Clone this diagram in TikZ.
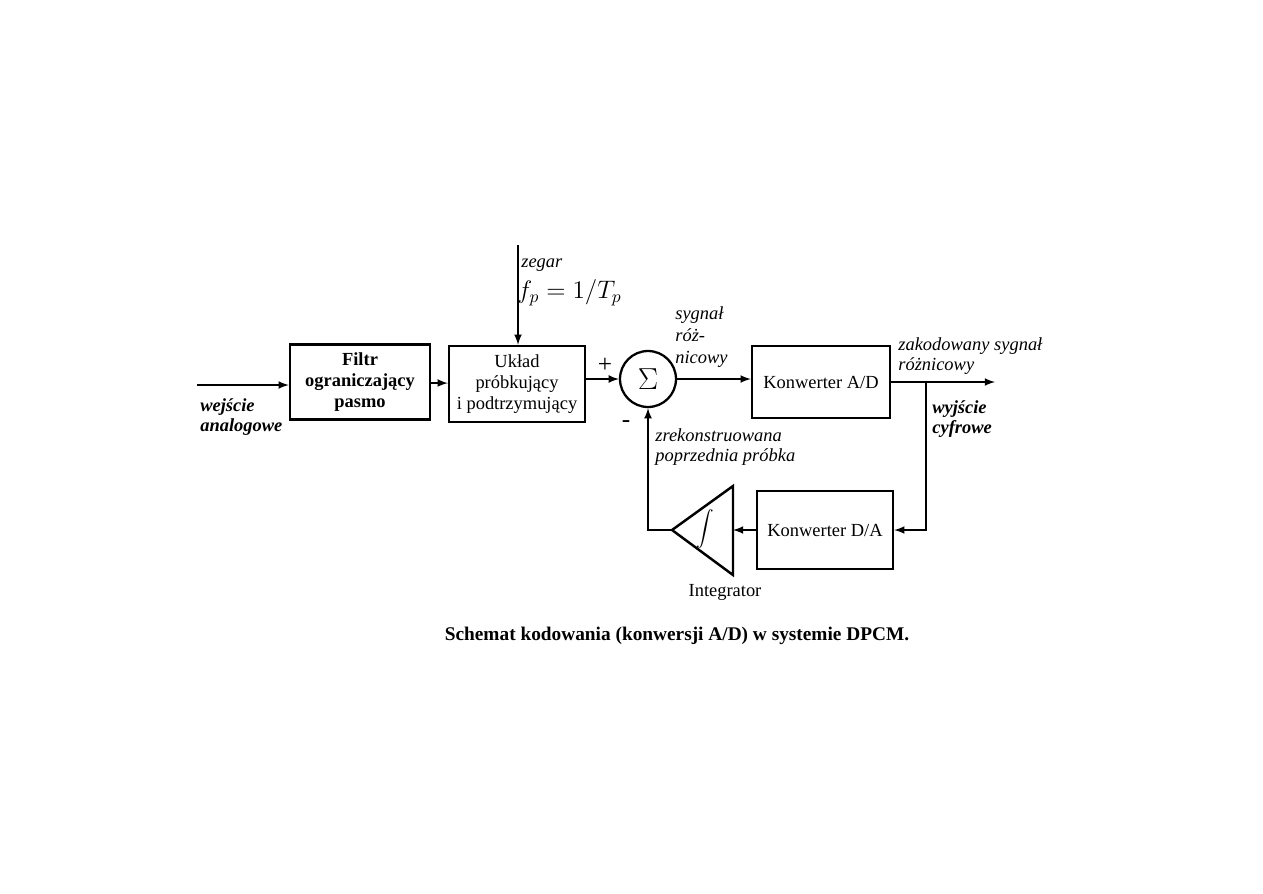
\documentclass[tikz,border=0pt]{standalone}
\usepackage{fontspec}
\setmainfont{Liberation Serif}
\usetikzlibrary{arrows, positioning}

\begin{document}
\begin{tikzpicture}[
    x=0.02cm, y=-0.02cm,
    font=\fontsize{10.5}{12}\selectfont,
    block/.style={rectangle, draw, line width=1.4pt, align=center, text centered, inner sep=2pt},
    arrow/.style={-latex, line width=1pt},
    lbl/.style={font=\fontsize{10.5}{11.5}\selectfont\itshape, align=left, anchor=west, inner sep=0pt},
    blbl/.style={lbl, font=\fontsize{10.5}{11.5}\selectfont\bfseries\itshape}
]
    \useasboundingbox (0,0) rectangle (1263,893);

    % Nodes
    \node (filtr) [block, minimum width=2.8cm, minimum height=1.5cm, font=\fontsize{10.5}{12}\selectfont\bfseries] at (360,382) {Filtr\\ograniczający\\pasmo};
    \node (uklad) [block, minimum width=2.72cm, minimum height=1.52cm] at (517,384) {Układ\\próbkujący\\i podtrzymujący};
    \node (sum) [circle, draw, line width=1.3pt, minimum size=1.12cm, inner sep=0pt] at (648,379) {\LARGE$\Sigma$};
    \node (ad) [block, minimum width=2.76cm, minimum height=1.44cm] at (821,382) {Konwerter A/D};
    \node (da) [block, minimum width=2.72cm, minimum height=1.56cm] at (825,530) {Konwerter D/A};
    \node (intg) at (705,529) {\large$\displaystyle\int$};
    \coordinate (tip) at (672,530);
    \coordinate (tbase) at (733,530);
    \draw [line width=1.4pt] (733,486) -- (733,575) -- (tip) -- cycle;

    \coordinate (in) at (197,385);
    \coordinate (clk) at (518,245);
    \coordinate (out) at (995,382);
    \coordinate (branch) at (926,382);

    % Paths
    \draw [arrow] (in) -- (in -| filtr.west);
    \draw [arrow] (filtr) -- (uklad);
    \draw [arrow] (clk) -- (clk |- uklad.north);
    \draw [arrow] (uklad.east |- sum) -- (sum.west);
    \draw [arrow] (sum.east) -- (sum.east -| ad.west);
    \draw [arrow] (ad.east) -- (out);
    \draw [arrow] (branch) |- (da.east);
    \draw [arrow] (da.west) -- (tbase);
    \draw [arrow] (tip) -| (sum.south);

    % Labels
    \node (wej) [blbl] at (200,417) {wejście\\analogowe};
    \node (zegar) [lbl] at (521,265) {zegar};
    \node (fp) [anchor=west, inner sep=0pt] at (517,293) {\fontsize{14}{16}\selectfont$f_p = 1/T_p$};
    \node (plus) at (605,365) {\Large +};
    \node (minus) at (626,424) {\Large -};
    \node (syg) [lbl, font=\fontsize{10.5}{12.5}\selectfont\itshape] at (675,337) {sygnał\\róż-\\nicowy};
    \node (zak) [lbl] at (898,356) {zakodowany sygnał\\różnicowy};
    \node (wyj) [blbl] at (932,419) {wyjście\\cyfrowe};
    \node (zrek) [lbl] at (655,447) {zrekonstruowana\\poprzednia próbka};
    \node (integ) at (725,592) {Integrator};
    \node (caption) at (677,636) {\fontsize{11}{13}\selectfont\bfseries Schemat kodowania (konwersji A/D) w systemie DPCM.};
\end{tikzpicture}
\end{document}
